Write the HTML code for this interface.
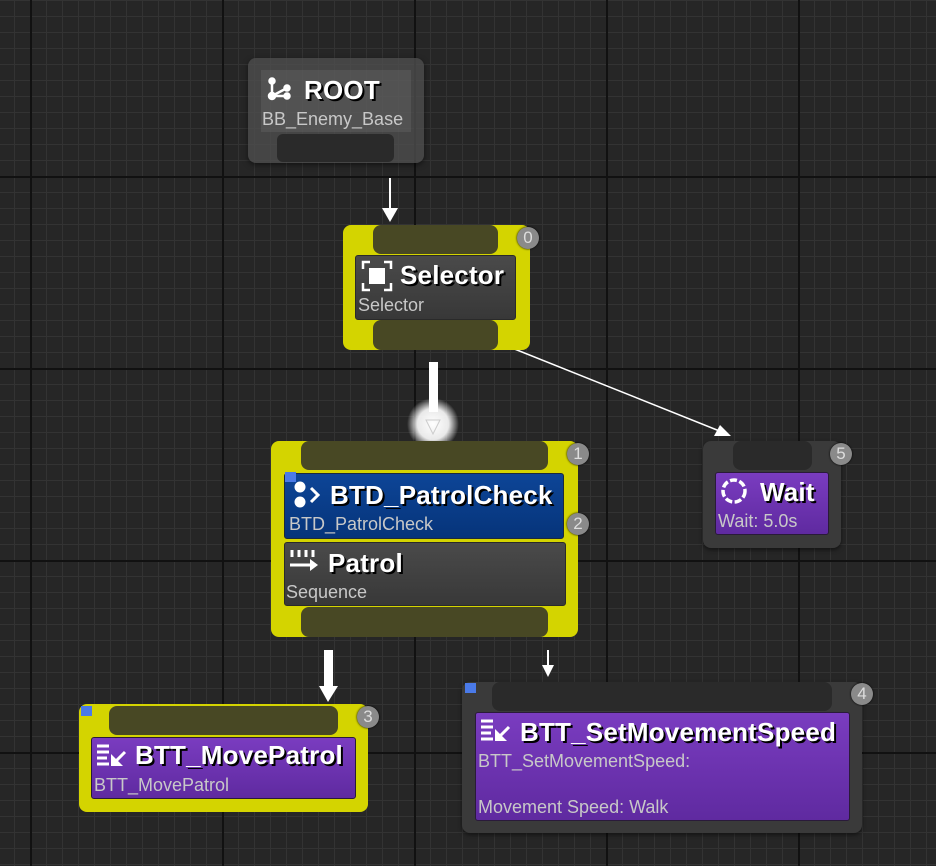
<!DOCTYPE html>
<html><head><style>
body{margin:0;width:936px;height:866px;overflow:hidden;background-color:#262626;
background-image:
linear-gradient(#111 0 2px,transparent 2px),
linear-gradient(90deg,#111 0 2px,transparent 2px),
linear-gradient(#333 0 1px,transparent 1px),
linear-gradient(90deg,#333 0 1px,transparent 1px);
background-size:192px 192px,192px 192px,16px 16px,16px 16px;
background-position:0 176px,30px 0,0 0,14px 0;
font-family:"Liberation Sans",sans-serif;position:relative}
.a{position:absolute;box-sizing:border-box}
.y{background:#d4d400;border-radius:8px}
.g{background:#3a3a3a;border-radius:8px;box-shadow:0 2px 4px rgba(0,0,0,.5)}
.pin{background:#484824;border-radius:8px}
.dp{background:#2a2a2a;border-radius:8px}
.in{background:linear-gradient(#4a4a4a,#383838);border:1px solid #2a2a2a;border-radius:3px}
.bl{background:linear-gradient(#0d4597,#06347a);border:1px solid #1c2a3a;border-radius:3px}
.pu{background:linear-gradient(#7a3cc0,#5f2aa0);border:1px solid #2a1a3a;border-radius:3px}
.t{position:absolute;color:#fff;font-weight:bold;font-size:26px;letter-spacing:0.2px;text-shadow:2px 2px 0 #000;white-space:nowrap}
.s{position:absolute;color:#c8c8c8;font-size:18px;white-space:nowrap}
.b{position:absolute;width:22px;height:22px;border-radius:50%;background:#8a8a8a;color:#ddd;font-size:17px;text-align:center;line-height:22px;box-shadow:0 0 2px #000}
.sq{position:absolute;width:11px;height:10px;background:#4a7ae8}
</style></head><body>
<svg class="a" style="left:0;top:0" width="936" height="866">
<defs><radialGradient id="gl"><stop offset="0" stop-color="#fff"/><stop offset=".6" stop-color="#fff" stop-opacity=".9"/><stop offset="1" stop-color="#fff" stop-opacity="0"/></radialGradient></defs>
<line x1="390" y1="178" x2="390" y2="212" stroke="#fff" stroke-width="2"/>
<polygon points="382,208 398,208 390,222" fill="#fff"/>
<circle cx="433" cy="424" r="26" fill="url(#gl)"/>
<rect x="429" y="362" width="9" height="50" fill="#fff"/>
<polygon points="426,420 440,420 433,434" fill="none" stroke="#ccc" stroke-width="1"/>
<line x1="512" y1="348" x2="722" y2="432" stroke="#fff" stroke-width="1.5"/>
<polygon points="731,436 714,436 720,425" fill="#fff"/>
<rect x="324" y="650" width="9" height="38" fill="#fff"/>
<polygon points="319,686 338,686 328,702" fill="#fff"/>
<line x1="548" y1="650" x2="548" y2="668" stroke="#fff" stroke-width="2"/>
<polygon points="542,665 554,665 548,677" fill="#fff"/>
</svg>

<!-- ROOT -->
<div class="a" style="left:248px;top:58px;width:176px;height:105px;background:rgba(78,78,78,.8);border-radius:8px;box-shadow:0 2px 6px rgba(0,0,0,.5)"></div>
<div class="a" style="left:261px;top:70px;width:150px;height:62px;background:rgba(95,95,95,.5)"></div>
<div class="a dp" style="left:277px;top:134px;width:117px;height:28px;border-radius:6px"></div>
<svg class="a" style="left:267px;top:76px" width="26" height="26"><g stroke="#fff" stroke-width="2.5" fill="#fff"><line x1="5" y1="20" x2="5" y2="5"/><line x1="5" y1="20" x2="20" y2="12"/><line x1="5" y1="20" x2="20" y2="20"/><circle cx="5" cy="5" r="2.5"/><circle cx="5" cy="20" r="3"/><circle cx="20" cy="12" r="2.5"/><circle cx="20" cy="20" r="2.5"/></g></svg>
<div class="t" style="left:304px;top:75px">ROOT</div>
<div class="s" style="left:262px;top:109px">BB_Enemy_Base</div>

<!-- Selector -->
<div class="a y" style="left:343px;top:225px;width:187px;height:125px"></div>
<div class="a pin" style="left:373px;top:225px;width:125px;height:29px"></div>
<div class="a in" style="left:355px;top:255px;width:161px;height:65px"></div>
<div class="a pin" style="left:373px;top:320px;width:125px;height:30px"></div>
<svg class="a" style="left:361px;top:260px" width="32" height="32"><g stroke="#fff" stroke-width="2.5" fill="none"><path d="M2 9V2h7M23 2h7v7M30 23v7h-7M9 30H2v-7"/></g><rect x="8" y="8" width="16" height="16" fill="#fff"/></svg>
<div class="t" style="left:400px;top:260px">Selector</div>
<div class="s" style="left:358px;top:295px">Selector</div>
<div class="b" style="left:517px;top:227px">0</div>

<!-- Patrol -->
<div class="a y" style="left:271px;top:441px;width:307px;height:196px"></div>
<div class="a pin" style="left:301px;top:441px;width:247px;height:29px"></div>
<div class="a bl" style="left:284px;top:473px;width:280px;height:66px"></div>
<div class="a in" style="left:284px;top:542px;width:282px;height:64px"></div>
<div class="a pin" style="left:301px;top:607px;width:247px;height:30px"></div>
<div class="sq" style="left:285px;top:472px"></div>
<svg class="a" style="left:292px;top:480px" width="32" height="30"><circle cx="8" cy="7" r="5.5" fill="#fff"/><circle cx="8" cy="22" r="5.5" fill="#fff"/><path d="M19 8l7 7-7 7" stroke="#fff" stroke-width="3" fill="none"/></svg>
<div class="t" style="left:330px;top:480px">BTD_PatrolCheck</div>
<div class="s" style="left:289px;top:514px">BTD_PatrolCheck</div>
<svg class="a" style="left:288px;top:548px" width="32" height="28"><g stroke="#fff" stroke-width="3"><line x1="4" y1="2" x2="4" y2="9"/><line x1="11" y1="2" x2="11" y2="9"/><line x1="18" y1="2" x2="18" y2="9"/><line x1="25" y1="2" x2="25" y2="9"/><line x1="2" y1="17" x2="24" y2="17"/></g><polygon points="22,11 30,17 22,23" fill="#fff"/></svg>
<div class="t" style="left:328px;top:548px">Patrol</div>
<div class="s" style="left:286px;top:582px">Sequence</div>
<div class="b" style="left:567px;top:443px">1</div>
<div class="b" style="left:567px;top:513px">2</div>

<!-- Wait -->
<div class="a g" style="left:703px;top:441px;width:138px;height:107px"></div>
<div class="a dp" style="left:733px;top:441px;width:79px;height:29px"></div>
<div class="a pu" style="left:715px;top:472px;width:114px;height:63px"></div>
<svg class="a" style="left:719px;top:476px" width="30" height="30"><circle cx="15" cy="15" r="11" stroke="#fff" stroke-width="3.5" fill="none" stroke-dasharray="7 2.5"/></svg>
<div class="t" style="left:760px;top:477px">Wait</div>
<div class="s" style="left:718px;top:511px">Wait: 5.0s</div>
<div class="b" style="left:830px;top:443px">5</div>

<!-- MovePatrol -->
<div class="a y" style="left:79px;top:704px;width:289px;height:108px"></div>
<div class="a pin" style="left:109px;top:706px;width:229px;height:29px"></div>
<div class="a pu" style="left:91px;top:737px;width:265px;height:62px"></div>
<div class="sq" style="left:81px;top:706px"></div>
<svg class="a" style="left:95px;top:742px" width="34" height="28"><g stroke="#fff" stroke-width="3"><line x1="2" y1="4" x2="14" y2="4"/><line x1="2" y1="10" x2="14" y2="10"/><line x1="2" y1="16" x2="12" y2="16"/><line x1="2" y1="22" x2="14" y2="22"/><line x1="30" y1="10" x2="20" y2="20"/></g><polygon points="16,12 16,24 28,24" fill="#fff"/></svg>
<div class="t" style="left:135px;top:740px">BTT_MovePatrol</div>
<div class="s" style="left:94px;top:775px">BTT_MovePatrol</div>
<div class="b" style="left:357px;top:706px">3</div>

<!-- SetMovementSpeed -->
<div class="a g" style="left:462px;top:682px;width:400px;height:151px"></div>
<div class="a dp" style="left:492px;top:682px;width:340px;height:29px"></div>
<div class="a pu" style="left:475px;top:712px;width:375px;height:109px"></div>
<div class="sq" style="left:465px;top:683px"></div>
<svg class="a" style="left:479px;top:717px" width="34" height="28"><g stroke="#fff" stroke-width="3"><line x1="2" y1="4" x2="14" y2="4"/><line x1="2" y1="10" x2="14" y2="10"/><line x1="2" y1="16" x2="12" y2="16"/><line x1="2" y1="22" x2="14" y2="22"/><line x1="30" y1="10" x2="20" y2="20"/></g><polygon points="16,12 16,24 28,24" fill="#fff"/></svg>
<div class="t" style="left:520px;top:717px">BTT_SetMovementSpeed</div>
<div class="s" style="left:478px;top:751px">BTT_SetMovementSpeed:</div>
<div class="s" style="left:478px;top:797px">Movement Speed: Walk</div>
<div class="b" style="left:851px;top:683px">4</div>
</body></html>
